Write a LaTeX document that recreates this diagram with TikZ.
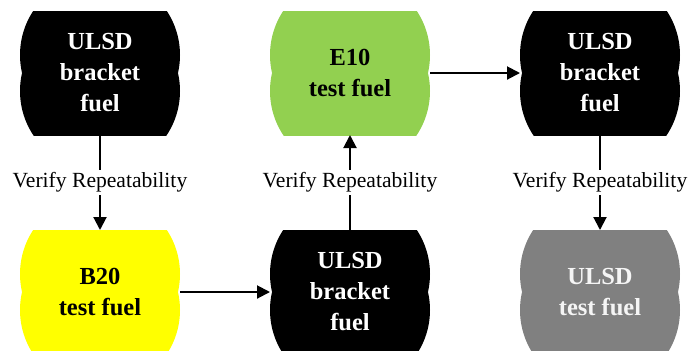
\documentclass[tikz,border=0pt]{standalone}
\usepackage{fontspec}
\setmainfont{Liberation Serif}
\usetikzlibrary{arrows.meta}
\definecolor{egreen}{RGB}{146,208,80}
\definecolor{ygold}{RGB}{255,255,0}
\definecolor{ggray}{RGB}{128,128,128}
\definecolor{lwhite}{RGB}{245,245,245}
\tikzset{
  fuelbox/.style={minimum width=80pt, minimum height=62pt, inner sep=0pt, outer sep=0pt,
    align=center, font=\fontsize{12.25}{15.5}\selectfont\bfseries,
    path picture={\fill[#1]
      ([yshift=9pt]path picture bounding box.center) circle (40pt)
      ([yshift=-9pt]path picture bounding box.center) circle (40pt);}},
  arr/.style={line width=1pt, -{Triangle[length=6.5pt,width=6.5pt]}},
  lbl/.style={fill=white, inner sep=1.5pt, font=\fontsize{10.8}{13}\selectfont}
}
\begin{document}
\begin{tikzpicture}[x=0.5pt,y=-0.5pt]
\useasboundingbox (0,0) rectangle (692,350);
\node[fuelbox=black, text=white] (u1) at (100,73) {ULSD\\bracket\\fuel};
\node[fuelbox=egreen, text=black] (e10) at (350,73) {E10\\test fuel};
\node[fuelbox=black, text=white] (u3) at (600,73) {ULSD\\bracket\\fuel};
\node[fuelbox=ygold, text=black] (b20) at (100,292) {B20\\test fuel};
\node[fuelbox=black, text=white] (u2) at (350,292) {ULSD\\bracket\\fuel};
\node[fuelbox=ggray, text=lwhite] (ut) at (600,292) {ULSD\\test fuel};
\draw[arr] (u1) -- node[lbl]{Verify Repeatability} (b20);
\draw[arr] (b20) -- (u2);
\draw[arr] (u2) -- node[lbl]{Verify Repeatability} (e10);
\draw[arr] (e10) -- (u3);
\draw[arr] (u3) -- node[lbl]{Verify Repeatability} (ut);
\end{tikzpicture}
\end{document}
